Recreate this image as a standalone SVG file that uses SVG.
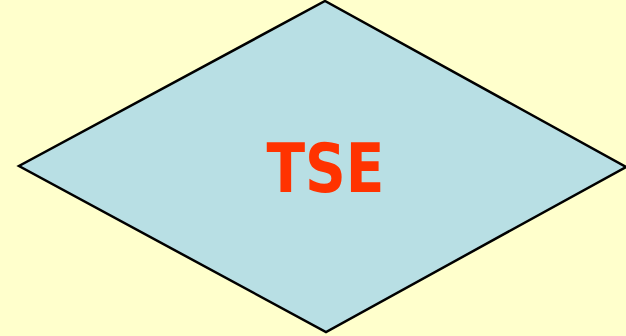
<svg xmlns="http://www.w3.org/2000/svg" width="626" height="336" viewBox="0 0 626 336">
<style>
.bg{fill:#FFFFCC}
.dia{fill:#B8DFE4;stroke:#000;stroke-width:2.5;stroke-linejoin:miter}
.lbl{font-family:"DejaVu Sans",Verdana,sans-serif;font-weight:bold;font-size:67px;fill:#FF3300}
</style>
<rect class="bg" x="0" y="0" width="626" height="336"/>
<g id="tse">
<polygon class="dia" points="325,1 626,167 326,332 19,166"/>
<text class="lbl" x="325.5" y="192" text-anchor="middle" textLength="118" lengthAdjust="spacingAndGlyphs">TSE</text>
</g>
</svg>
